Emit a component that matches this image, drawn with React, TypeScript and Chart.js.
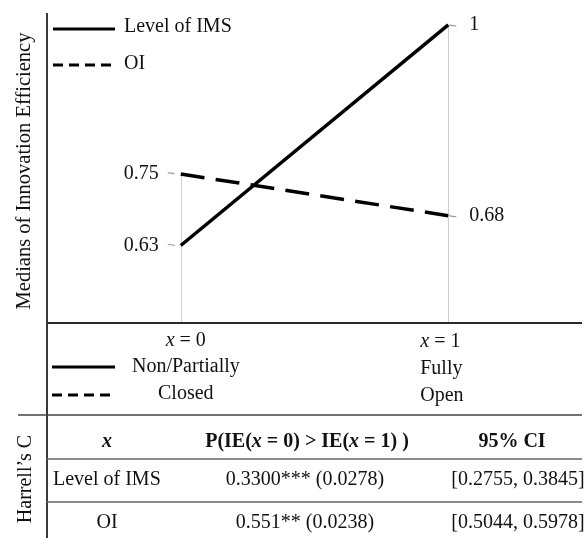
import React, { useEffect, useRef } from 'react';
import { Chart, registerables } from 'chart.js';

Chart.register(...registerables);

// ---- data ----
const xPositions = [0, 1];
const imsMedians = [0.63, 1];
const oiMedians = [0.75, 0.68];
const seriesNames = ['Level of IMS', 'OI'];
const xCategoryTitles = ['x = 0', 'x = 1'];
const imsLevels = ['Non/Partially', 'Fully'];
const oiLevels = ['Closed', 'Open'];
const yAxisTitle = 'Medians of Innovation Efficiency';
const sideTitle = 'Harrell\u2019s C';
const tableHeaders = ['x', 'P(IE(x = 0) > IE(x = 1) )', '95% CI'];
const rowNames = ['Level of IMS', 'OI'];
const estimates = ['0.3300*** (0.0278)', '0.551** (0.0238)'];
const confIntervals = ['[0.2755, 0.3845]', '[0.5044, 0.5978]'];

const FONT = '"Liberation Serif", "Times New Roman", serif';
const TEXT = '#111';

function fontStr(size: number, bold: boolean, italic: boolean) {
  return `${italic ? 'italic ' : ''}${bold ? 'bold ' : ''}${size}px ${FONT}`;
}

type Seg = { t: string; it: boolean; w?: number };

function segments(text: string): Seg[] {
  const out: Seg[] = [];
  let buf = '';
  for (let i = 0; i < text.length; i++) {
    const c = text[i];
    const prev = text[i - 1] || ' ';
    const next = text[i + 1] || ' ';
    if (c === 'x' && !/[A-Za-z]/.test(prev) && !/[A-Za-z]/.test(next)) {
      if (buf) out.push({ t: buf, it: false });
      buf = '';
      out.push({ t: 'x', it: true });
    } else buf += c;
  }
  if (buf) out.push({ t: buf, it: false });
  return out;
}

function drawRich(
  ctx: CanvasRenderingContext2D,
  text: string,
  x: number,
  y: number,
  align: 'left' | 'center' | 'right',
  bold = false,
  size = 20
) {
  const segs = segments(text);
  let total = 0;
  segs.forEach((s) => {
    ctx.font = fontStr(size, bold, s.it);
    s.w = ctx.measureText(s.t).width;
    total += s.w;
  });
  let cx = align === 'center' ? x - total / 2 : align === 'right' ? x - total : x;
  ctx.textAlign = 'left';
  ctx.textBaseline = 'middle';
  ctx.fillStyle = TEXT;
  segs.forEach((s) => {
    ctx.font = fontStr(size, bold, s.it);
    ctx.fillText(s.t, cx, y);
    cx += s.w || 0;
  });
}

function hLine(ctx: CanvasRenderingContext2D, x1: number, x2: number, y: number, color: string, w: number, dash: number[] = []) {
  ctx.save();
  ctx.strokeStyle = color;
  ctx.lineWidth = w;
  ctx.setLineDash(dash);
  ctx.beginPath();
  ctx.moveTo(x1, y);
  ctx.lineTo(x2, y);
  ctx.stroke();
  ctx.restore();
}

function vLine(ctx: CanvasRenderingContext2D, x: number, y1: number, y2: number, color: string, w: number) {
  ctx.save();
  ctx.strokeStyle = color;
  ctx.lineWidth = w;
  ctx.beginPath();
  ctx.moveTo(x, y1);
  ctx.lineTo(x, y2);
  ctx.stroke();
  ctx.restore();
}

const PLOT_DASH = [24, 11.3];
const LEGEND_DASH = [10, 6];

const decorPlugin = {
  id: 'decor',
  beforeDatasetsDraw(chart: any) {
    const { ctx, chartArea, scales } = chart;
    const xs = scales.x;
    const ys = scales.y;
    // drop lines
    xPositions.forEach((xv, i) => {
      const top = Math.max(imsMedians[i], oiMedians[i]);
      const px = Math.round(xs.getPixelForValue(xv)) + 0.5;
      vLine(ctx, px, ys.getPixelForValue(top), chartArea.bottom, '#cfcfcf', 1);
    });
  },
  afterDraw(chart: any) {
    const { ctx, chartArea, scales, height } = chart;
    const xs = scales.x;
    const ys = scales.y;
    const L = chartArea.left;
    const R = chartArea.right;
    const B = chartArea.bottom;

    // axes
    vLine(ctx, L, chartArea.top, height, '#3a3a3a', 2);
    hLine(ctx, L, R, B, '#2a2a2a', 2);

    // value labels
    xPositions.forEach((xv, i) => {
      const px = xs.getPixelForValue(xv);
      [imsMedians[i], oiMedians[i]].forEach((v) => {
        const py = ys.getPixelForValue(v);
        ctx.save();
        ctx.strokeStyle = '#999';
        ctx.lineWidth = 1.2;
        ctx.beginPath();
        if (i === 0) {
          ctx.moveTo(px - 13, py - 1);
          ctx.quadraticCurveTo(px - 9, py - 1, px - 6, py);
        } else {
          ctx.moveTo(px + 1, py);
          ctx.quadraticCurveTo(px + 4, py + 1, px + 8, py + 1);
        }
        ctx.stroke();
        ctx.restore();
        const label = String(v);
        if (i === 0) drawRich(ctx, label, px - 22, py, 'right');
        else drawRich(ctx, label, px + 21, py, 'left');
      });
    });

    // top legend
    hLine(ctx, 53, 115, 29, '#000', 3);
    drawRich(ctx, seriesNames[0], 124, 27, 'left');
    hLine(ctx, 53, 115, 65, '#000', 3, LEGEND_DASH);
    drawRich(ctx, seriesNames[1], 124, 64, 'left');

    // y axis title
    ctx.save();
    ctx.translate(25, 171);
    ctx.rotate(-Math.PI / 2);
    drawRich(ctx, yAxisTitle, 0, 0, 'center', false, 20.5);
    ctx.restore();

    // category rows under axis
    const p0 = xs.getPixelForValue(xPositions[0]);
    const p1 = xs.getPixelForValue(xPositions[1]);
    drawRich(ctx, xCategoryTitles[0], p0 + 5, 341, 'center');
    drawRich(ctx, xCategoryTitles[1], p1 - 28, 342, 'left');
    hLine(ctx, 52, 115, 367, '#000', 3);
    drawRich(ctx, imsLevels[0], 132, 367, 'left');
    drawRich(ctx, imsLevels[1], p1 - 28, 369, 'left');
    hLine(ctx, 52, 115, 395, '#000', 3, LEGEND_DASH);
    drawRich(ctx, oiLevels[0], 158, 394, 'left');
    drawRich(ctx, oiLevels[1], p1 - 28, 396, 'left');

    // table
    hLine(ctx, 18, R, 415, '#444', 1.5);
    ctx.save();
    ctx.translate(26, 479);
    ctx.rotate(-Math.PI / 2);
    drawRich(ctx, sideTitle, 0, 0, 'center');
    ctx.restore();

    const colCenters = [107, 307, 512];
    drawRich(ctx, tableHeaders[0], colCenters[0], 442, 'center', true);
    drawRich(ctx, tableHeaders[1], colCenters[1], 442, 'center', true);
    drawRich(ctx, tableHeaders[2], colCenters[2], 442, 'center', true);
    hLine(ctx, L, R, 459, '#666', 1.5);
    const rowYs = [480, 523];
    rowNames.forEach((name, r) => {
      if (r === 0) drawRich(ctx, name, 53, rowYs[r], 'left');
      else drawRich(ctx, name, colCenters[0], rowYs[r], 'center');
      drawRich(ctx, estimates[r], 305, rowYs[r], 'center');
      drawRich(ctx, confIntervals[r], 518, rowYs[r], 'center');
    });
    hLine(ctx, L, R, 502, '#666', 1.5);
  },
};

export default function App() {
  const ref = useRef<HTMLCanvasElement>(null);
  useEffect(() => {
    const prevMargin = document.body.style.margin;
    document.body.style.margin = '0';
    const canvas = ref.current;
    if (!canvas) return;
    const chart = new Chart(canvas, {
      type: 'line',
      data: {
        datasets: [
          {
            label: seriesNames[0],
            data: xPositions.map((x, i) => ({ x, y: imsMedians[i] })),
            borderColor: '#000',
            borderWidth: 3.5,
            pointRadius: 0,
            fill: false,
          },
          {
            label: seriesNames[1],
            data: xPositions.map((x, i) => ({ x, y: oiMedians[i] })),
            borderColor: '#000',
            borderWidth: 3.5,
            borderDash: PLOT_DASH,
            pointRadius: 0,
            fill: false,
          },
        ],
      },
      options: {
        animation: false,
        responsive: false,
        devicePixelRatio: 1,
        layout: { padding: { left: 47, top: 13, right: 6, bottom: 215 } },
        plugins: { legend: { display: false }, tooltip: { enabled: false } },
        scales: {
          x: { type: 'linear', min: -0.5, max: 1.5, display: false },
          y: { type: 'linear', min: 0.5, max: 1.02, display: false },
        },
      },
      plugins: [decorPlugin],
    } as any);
    return () => {
      chart.destroy();
      document.body.style.margin = prevMargin;
    };
  }, []);
  return (
    <div style={{ width: 588, height: 538, position: 'relative', background: '#fff' }}>
      <canvas ref={ref} width={588} height={538} style={{ display: 'block', width: 588, height: 538 }} />
    </div>
  );
}
